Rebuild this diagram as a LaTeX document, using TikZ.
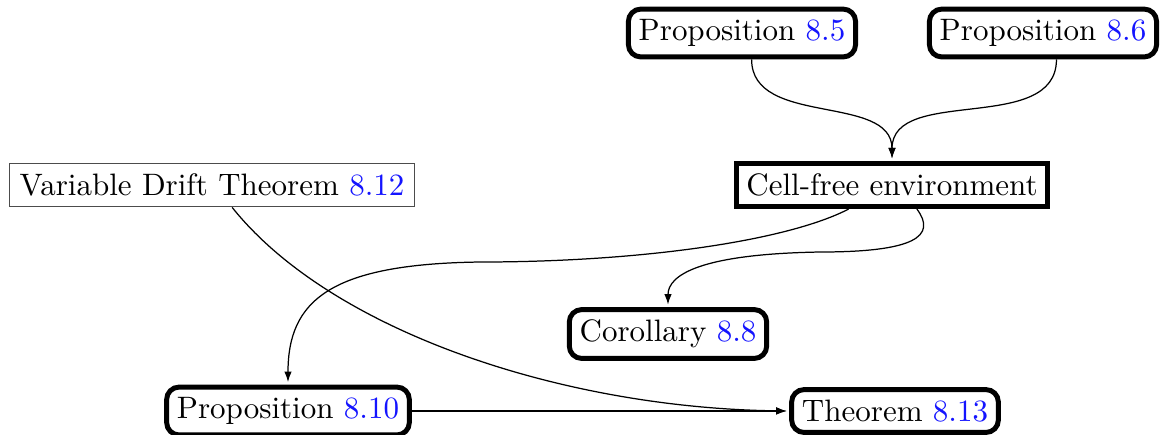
\documentclass[tikz,border=0pt]{standalone}
\usetikzlibrary{arrows.meta}
\definecolor{refblue}{RGB}{20,20,255}
\tikzset{
  resbox/.style={draw, line width=1.6pt, rounded corners=4pt, fill=white},
  sharpbox/.style={draw, line width=1.6pt, fill=white},
  plainbox/.style={draw=black!70, line width=0.5pt, fill=white},
  edge/.style={line width=0.4pt, -{Latex[length=3.4pt,width=2.4pt]}, shorten >=0.8pt}
}
\newcommand{\rnum}[1]{\textcolor{refblue}{#1}}
\begin{document}
\begin{tikzpicture}[x=0.3226pt,y=-0.3226pt]
\useasboundingbox (0,0) rectangle (1161,434);
\node[resbox] (p85) at (742,33) {Proposition \rnum{8.5}};
\node[resbox] (p86) at (1043,33) {Proposition \rnum{8.6}};
\node[sharpbox] (cf) at (892,185) {Cell-free environment};
\node[plainbox] (vdt) at (212,185) {Variable Drift Theorem \rnum{8.12}};
\node[resbox] (c88) at (668,334) {Corollary \rnum{8.8}};
\node[resbox] (p810) at (288,411) {Proposition \rnum{8.10}};
\node[resbox] (thm) at (895,411) {Theorem \rnum{8.13}};

\draw[edge] (p85.-70) to[out=-90,in=90] (cf.north);
\draw[edge] (p86.-63) to[out=-90,in=90] (cf.north);
\draw[edge] (cf.-151) .. controls +(-62,32) and +(160,0) .. (480,262)
  .. controls +(-150,2) and +(0,-84) .. (p810.north);
\draw[edge] (cf.-44) .. controls +(20,27) and +(95,0) .. (820,252)
  .. controls +(-120,2) and +(0,-32) .. (c88.north);
\draw[edge] (vdt.-48) .. controls (330,330) and (560,408) .. (thm.west);
\draw[edge] (p810.east) -- (thm.west);
\end{tikzpicture}
\end{document}
